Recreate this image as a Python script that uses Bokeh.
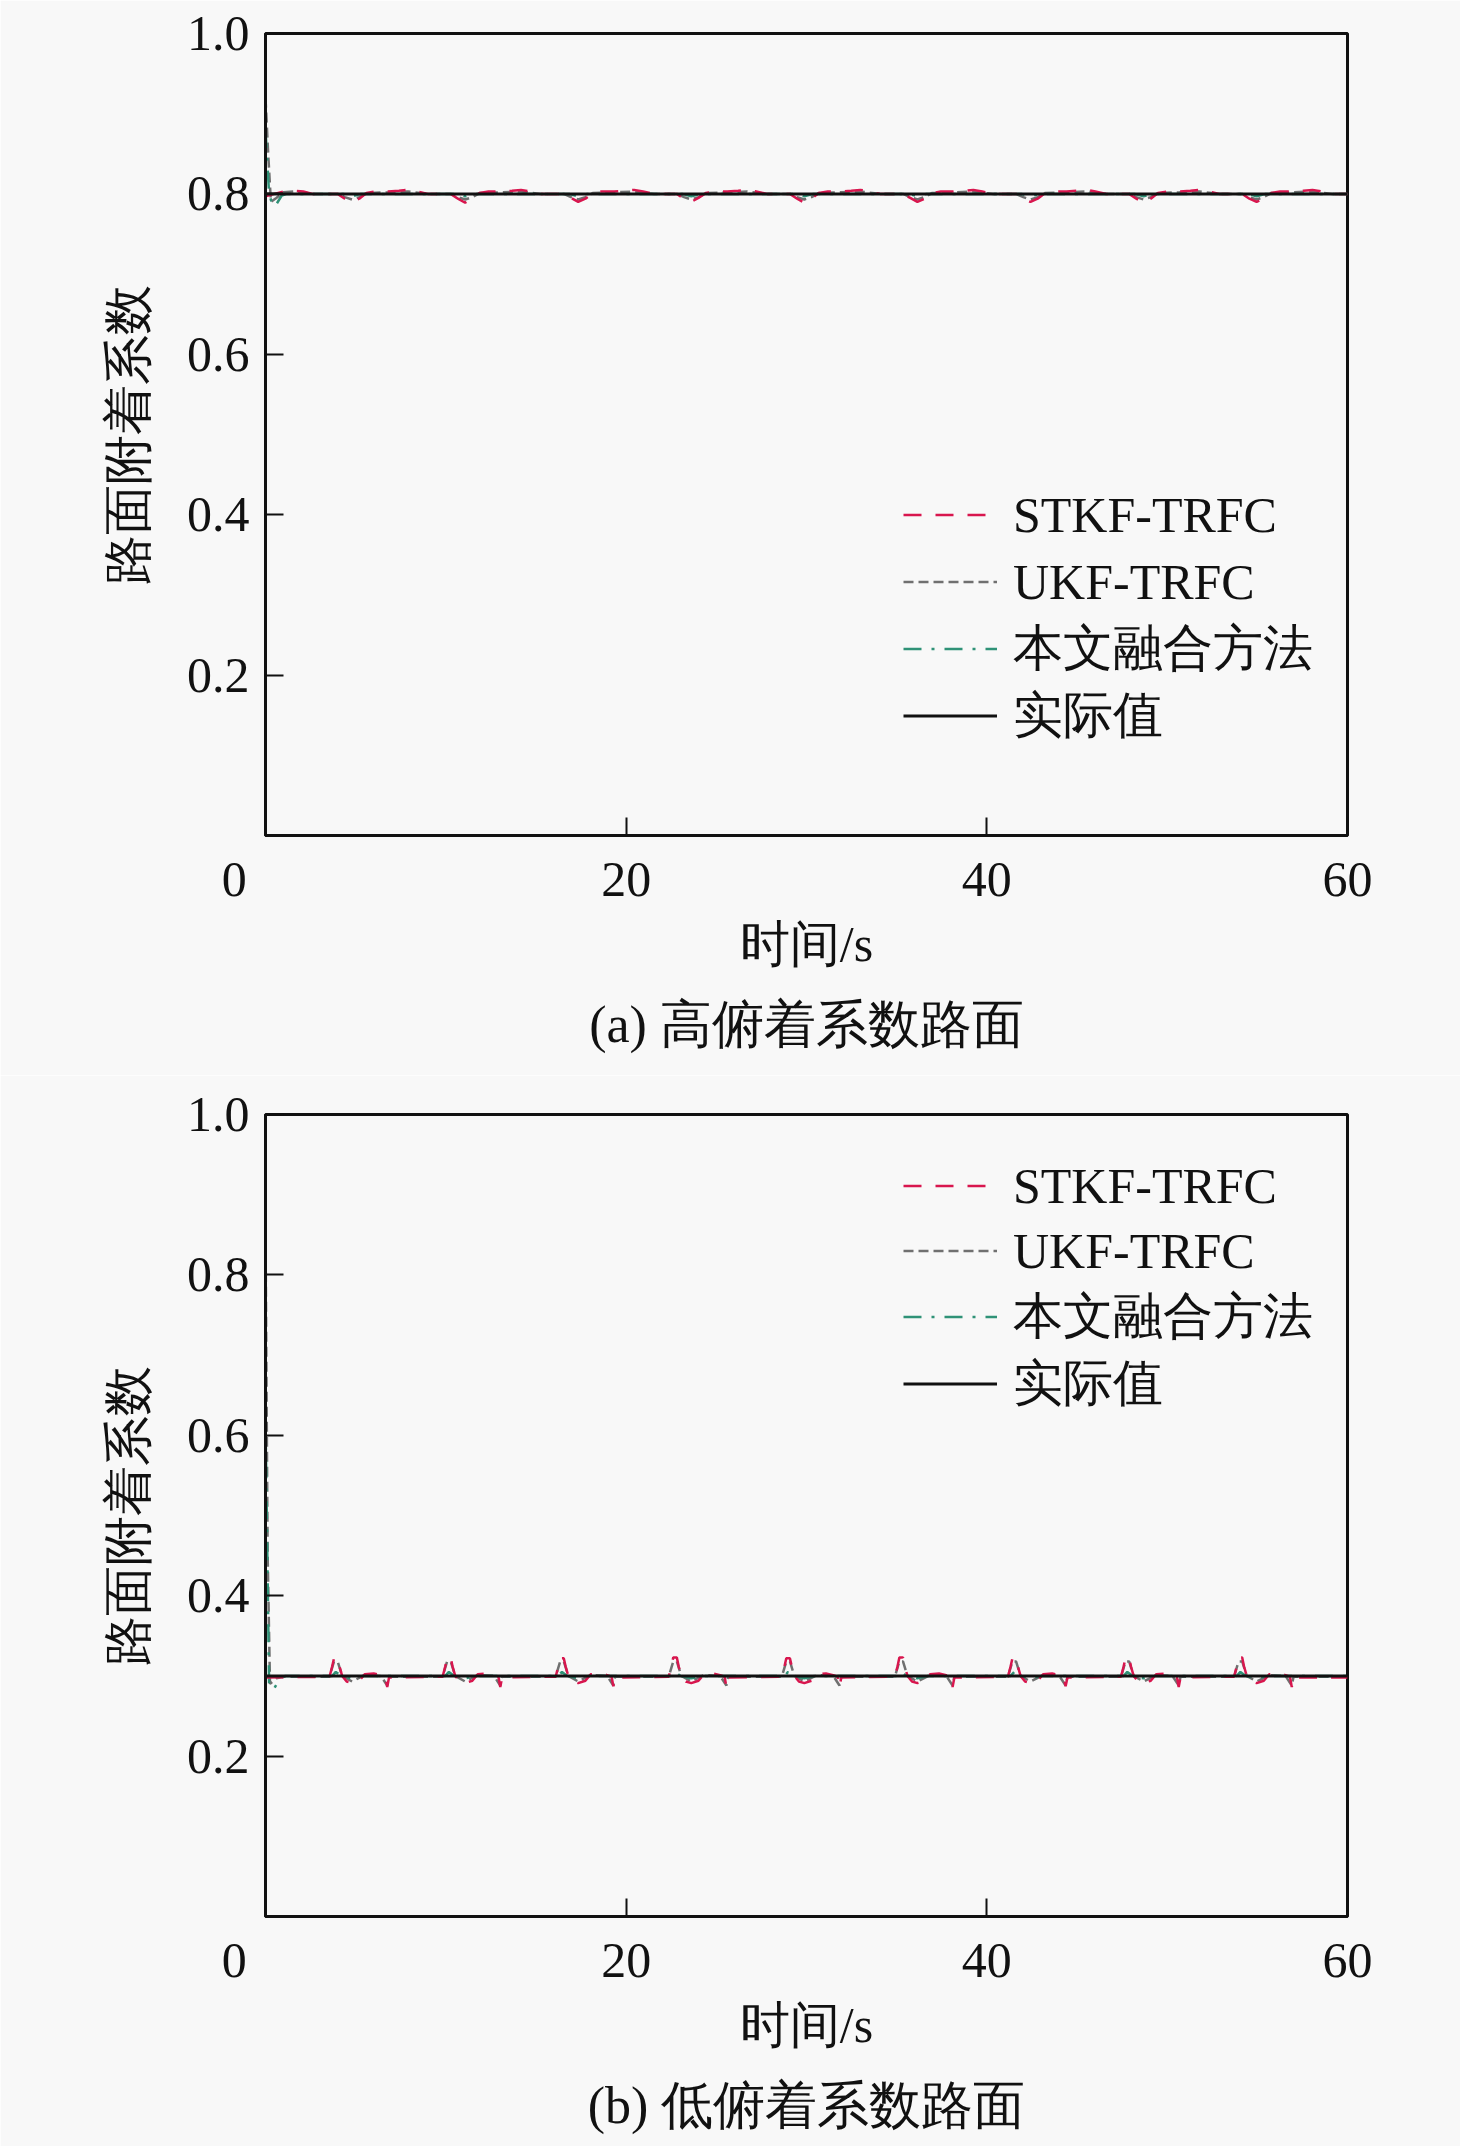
from bokeh.plotting import figure
from bokeh.models import Range1d, FixedTicker, Legend, LegendItem, Title, PrintfTickFormatter
from bokeh.layouts import column
from bokeh.embed import file_html
from bokeh.resources import INLINE

# ---------------- data : (a) high adhesion road ----------------
actual_a_t = [0.0, 60.0]
actual_a = [0.8, 0.8]

stkf_a_t = [0.0, 0.5, 1.0, 1.6, 2.1, 2.6,
            4.0, 4.4, 4.8, 5.2, 5.6, 6.1, 6.8, 7.4, 7.9, 8.4, 9.0,
            10.27, 10.67, 11.07, 11.47, 11.87, 12.37, 13.07, 13.67, 14.17, 14.67, 15.27,
            16.54, 16.94, 17.34, 17.74, 18.14, 18.64, 19.34, 19.94, 20.44, 20.94, 21.54,
            22.81, 23.21, 23.61, 24.01, 24.41, 24.91, 25.61, 26.21, 26.71, 27.21, 27.81,
            29.08, 29.48, 29.88, 30.28, 30.68, 31.18, 31.88, 32.48, 32.98, 33.48, 34.08,
            35.35, 35.75, 36.15, 36.55, 36.95, 37.45, 38.15, 38.75, 39.25, 39.75, 40.35,
            41.62, 42.02, 42.42, 42.82, 43.22, 43.72, 44.42, 45.02, 45.52, 46.02, 46.62,
            47.89, 48.29, 48.69, 49.09, 49.49, 49.99, 50.69, 51.29, 51.79, 52.29, 52.89,
            54.16, 54.56, 54.96, 55.36, 55.76, 56.26, 56.96, 57.56, 58.06, 58.56, 59.16, 60.0]
stkf_a = [0.797, 0.800, 0.803, 0.804, 0.803, 0.800,
          0.800, 0.794, 0.790, 0.794, 0.801, 0.803, 0.803, 0.804, 0.805, 0.803, 0.800,
          0.800, 0.794, 0.789, 0.794, 0.801, 0.803, 0.803, 0.804, 0.805, 0.803, 0.800,
          0.800, 0.795, 0.790, 0.794, 0.801, 0.803, 0.803, 0.804, 0.805, 0.803, 0.800,
          0.800, 0.794, 0.790, 0.795, 0.801, 0.803, 0.803, 0.804, 0.805, 0.803, 0.800,
          0.800, 0.794, 0.789, 0.794, 0.801, 0.803, 0.803, 0.804, 0.805, 0.803, 0.800,
          0.800, 0.795, 0.790, 0.794, 0.801, 0.803, 0.803, 0.804, 0.805, 0.803, 0.800,
          0.800, 0.794, 0.790, 0.794, 0.801, 0.803, 0.803, 0.804, 0.805, 0.803, 0.800,
          0.800, 0.794, 0.789, 0.794, 0.801, 0.803, 0.803, 0.804, 0.805, 0.803, 0.800,
          0.800, 0.794, 0.790, 0.794, 0.801, 0.803, 0.803, 0.804, 0.805, 0.803, 0.800, 0.800]

ukf_a_t = [0.0, 0.15, 0.3, 0.6, 1.0, 1.6, 2.1, 2.6,
           4.0, 4.4, 4.8, 5.2, 5.6, 6.8, 7.9, 9.0,
           10.27, 10.67, 11.07, 11.47, 11.87, 13.07, 14.17, 15.27,
           16.54, 16.94, 17.34, 17.74, 18.14, 19.34, 20.44, 21.54,
           22.81, 23.21, 23.61, 24.01, 24.41, 25.61, 26.71, 27.81,
           29.08, 29.48, 29.88, 30.28, 30.68, 31.88, 32.98, 34.08,
           35.35, 35.75, 36.15, 36.55, 36.95, 38.15, 39.25, 40.35,
           41.62, 42.02, 42.42, 42.82, 43.22, 44.42, 45.52, 46.62,
           47.89, 48.29, 48.69, 49.09, 49.49, 50.69, 51.79, 52.89,
           54.16, 54.56, 54.96, 55.36, 55.76, 56.96, 58.06, 59.16, 60.0]
ukf_a = [0.92, 0.85, 0.79, 0.795, 0.802, 0.803, 0.802, 0.800,
         0.800, 0.796, 0.793, 0.796, 0.801, 0.802, 0.803, 0.800,
         0.800, 0.796, 0.793, 0.796, 0.801, 0.802, 0.803, 0.800,
         0.800, 0.796, 0.793, 0.796, 0.801, 0.802, 0.803, 0.800,
         0.800, 0.796, 0.793, 0.796, 0.801, 0.802, 0.803, 0.800,
         0.800, 0.796, 0.793, 0.796, 0.801, 0.802, 0.803, 0.800,
         0.800, 0.796, 0.793, 0.796, 0.801, 0.802, 0.803, 0.800,
         0.800, 0.796, 0.793, 0.796, 0.801, 0.802, 0.803, 0.800,
         0.800, 0.796, 0.793, 0.796, 0.801, 0.802, 0.803, 0.800,
         0.800, 0.796, 0.793, 0.796, 0.801, 0.802, 0.803, 0.800, 0.800]

fused_a_t = [0.0, 0.2, 0.4, 0.6, 0.9, 1.2,
             4.3, 4.8, 5.3, 10.57, 11.07, 11.57, 16.84, 17.34, 17.84,
             23.11, 23.61, 24.11, 29.38, 29.88, 30.38, 35.65, 36.15, 36.65,
             41.92, 42.42, 42.92, 48.19, 48.69, 49.19, 54.46, 54.96, 55.46, 60.0]
fused_a = [0.88, 0.80, 0.785, 0.787, 0.798, 0.800,
           0.800, 0.797, 0.800, 0.800, 0.797, 0.800, 0.800, 0.797, 0.800,
           0.800, 0.797, 0.800, 0.800, 0.797, 0.800, 0.800, 0.797, 0.800,
           0.800, 0.797, 0.800, 0.800, 0.797, 0.800, 0.800, 0.797, 0.800, 0.800]

# ---------------- data : (b) low adhesion road ----------------
actual_b_t = [0.0, 60.0]
actual_b = [0.3, 0.3]

stkf_b_t = [0.0,
            3.55, 3.70, 3.80, 4.00, 4.10, 4.25, 4.50, 4.80, 5.20, 5.50, 6.00, 6.40, 6.65, 6.75, 6.85,
            9.82, 9.97, 10.07, 10.27, 10.37, 10.52, 10.77, 11.07, 11.47, 11.77, 12.27, 12.67, 12.92, 13.02, 13.12,
            16.09, 16.24, 16.34, 16.54, 16.64, 16.79, 17.04, 17.34, 17.74, 18.04, 18.54, 18.94, 19.19, 19.29, 19.39,
            22.36, 22.51, 22.61, 22.81, 22.91, 23.06, 23.31, 23.61, 24.01, 24.31, 24.81, 25.21, 25.46, 25.56, 25.66,
            28.63, 28.78, 28.88, 29.08, 29.18, 29.33, 29.58, 29.88, 30.28, 30.58, 31.08, 31.48, 31.73, 31.83, 31.93,
            34.90, 35.05, 35.15, 35.35, 35.45, 35.60, 35.85, 36.15, 36.55, 36.85, 37.35, 37.75, 38.00, 38.10, 38.20,
            41.17, 41.32, 41.42, 41.62, 41.72, 41.87, 42.12, 42.42, 42.82, 43.12, 43.62, 44.02, 44.27, 44.37, 44.47,
            47.44, 47.59, 47.69, 47.89, 47.99, 48.14, 48.39, 48.69, 49.09, 49.39, 49.89, 50.29, 50.54, 50.64, 50.74,
            53.71, 53.86, 53.96, 54.16, 54.26, 54.41, 54.66, 54.96, 55.36, 55.66, 56.16, 56.56, 56.81, 56.91, 57.01,
            60.0]
stkf_b = [0.298,
          0.299, 0.312, 0.322, 0.322, 0.312, 0.300, 0.293, 0.291, 0.294, 0.302, 0.303, 0.301, 0.299, 0.286, 0.298,
          0.299, 0.312, 0.323, 0.323, 0.312, 0.300, 0.293, 0.291, 0.294, 0.302, 0.303, 0.301, 0.299, 0.286, 0.298,
          0.299, 0.312, 0.322, 0.322, 0.312, 0.300, 0.293, 0.291, 0.294, 0.302, 0.303, 0.301, 0.299, 0.287, 0.298,
          0.299, 0.312, 0.323, 0.323, 0.312, 0.300, 0.293, 0.291, 0.294, 0.302, 0.303, 0.301, 0.299, 0.286, 0.298,
          0.299, 0.312, 0.322, 0.322, 0.312, 0.300, 0.293, 0.291, 0.294, 0.302, 0.303, 0.301, 0.299, 0.286, 0.298,
          0.299, 0.312, 0.323, 0.323, 0.312, 0.300, 0.293, 0.291, 0.294, 0.302, 0.303, 0.301, 0.299, 0.286, 0.298,
          0.299, 0.312, 0.322, 0.322, 0.312, 0.300, 0.293, 0.291, 0.294, 0.302, 0.303, 0.301, 0.299, 0.287, 0.298,
          0.299, 0.312, 0.323, 0.323, 0.312, 0.300, 0.293, 0.291, 0.294, 0.302, 0.303, 0.301, 0.299, 0.286, 0.298,
          0.299, 0.312, 0.323, 0.323, 0.312, 0.300, 0.293, 0.291, 0.294, 0.302, 0.303, 0.301, 0.299, 0.286, 0.298,
          0.298]

ukf_b_t = [0.0, 0.12, 0.25, 0.6, 1.0,
           3.55, 3.80, 4.00, 4.25, 4.80, 5.50, 6.40, 6.75, 6.85,
           9.82, 10.07, 10.27, 10.52, 11.07, 11.77, 12.67, 13.02, 13.12,
           16.09, 16.34, 16.54, 16.79, 17.34, 18.04, 18.94, 19.29, 19.39,
           22.36, 22.61, 22.81, 23.06, 23.61, 24.31, 25.21, 25.56, 25.66,
           28.63, 28.88, 29.08, 29.33, 29.88, 30.58, 31.48, 31.83, 31.93,
           34.90, 35.15, 35.35, 35.60, 36.15, 36.85, 37.75, 38.10, 38.20,
           41.17, 41.42, 41.62, 41.87, 42.42, 43.12, 44.02, 44.37, 44.47,
           47.44, 47.69, 47.89, 48.14, 48.69, 49.39, 50.29, 50.64, 50.74,
           53.71, 53.96, 54.16, 54.41, 54.96, 55.66, 56.56, 56.91, 57.01, 60.0]
ukf_b = [0.86, 0.45, 0.29, 0.297, 0.299,
         0.299, 0.318, 0.318, 0.300, 0.293, 0.301, 0.300, 0.288, 0.299,
         0.299, 0.318, 0.318, 0.300, 0.293, 0.301, 0.300, 0.288, 0.299,
         0.299, 0.318, 0.318, 0.300, 0.293, 0.301, 0.300, 0.288, 0.299,
         0.299, 0.318, 0.318, 0.300, 0.293, 0.301, 0.300, 0.288, 0.299,
         0.299, 0.318, 0.318, 0.300, 0.293, 0.301, 0.300, 0.288, 0.299,
         0.299, 0.318, 0.318, 0.300, 0.293, 0.301, 0.300, 0.288, 0.299,
         0.299, 0.318, 0.318, 0.300, 0.293, 0.301, 0.300, 0.288, 0.299,
         0.299, 0.318, 0.318, 0.300, 0.293, 0.301, 0.300, 0.288, 0.299,
         0.299, 0.318, 0.318, 0.300, 0.293, 0.301, 0.300, 0.288, 0.299, 0.299]

fused_b_t = [0.0, 0.2, 0.45, 0.8, 1.1,
             3.7, 3.9, 4.2, 4.8, 5.4, 9.97, 10.17, 10.47, 11.07, 11.67,
             16.24, 16.44, 16.74, 17.34, 17.94, 22.51, 22.71, 23.01, 23.61, 24.21,
             28.78, 28.98, 29.28, 29.88, 30.48, 35.05, 35.25, 35.55, 36.15, 36.75,
             41.32, 41.52, 41.82, 42.42, 43.02, 47.59, 47.79, 48.09, 48.69, 49.29,
             53.86, 54.06, 54.36, 54.96, 55.56, 60.0]
fused_b = [0.62, 0.29, 0.283, 0.297, 0.300,
           0.300, 0.305, 0.300, 0.297, 0.300, 0.300, 0.305, 0.300, 0.297, 0.300,
           0.300, 0.305, 0.300, 0.297, 0.300, 0.300, 0.305, 0.300, 0.297, 0.300,
           0.300, 0.305, 0.300, 0.297, 0.300, 0.300, 0.305, 0.300, 0.297, 0.300,
           0.300, 0.305, 0.300, 0.297, 0.300, 0.300, 0.305, 0.300, 0.297, 0.300,
           0.300, 0.305, 0.300, 0.297, 0.300, 0.300]

x_ticks = [0, 20, 40, 60]
# the origin label sits left of the corner in the reference (padded with no-break spaces)
x_tick_labels = {0: "0\u00a0\u00a0\u00a0\u00a0\u00a0", 20: "20", 40: "40", 60: "60"}
y_ticks = [0.2, 0.4, 0.6, 0.8, 1.0]
series_names = ["STKF-TRFC", "UKF-TRFC", "本文融合方法", "实际值"]
x_label = "时间/s"
y_label = "路面附着系数"
captions = ["(a) 高俯着系数路面", "(b) 低俯着系数路面"]

FONT = "Liberation Serif"
BG = "#f8f8f8"
C_STKF = "#d8164e"
C_UKF = "#707070"
C_FUSED = "#2f9277"
C_ACT = "#111111"


def panel(series, caption, min_top, min_bottom, legend_y, legend_item_h):
    p = figure(frame_width=1082, frame_height=802, output_backend="svg",
               toolbar_location=None, x_range=Range1d(0, 60), y_range=Range1d(0, 1),
               min_border_left=265, min_border_right=113, min_border_top=min_top,
               min_border_bottom=min_bottom, background_fill_color=BG,
               border_fill_color=BG)
    p.xgrid.visible = False
    p.ygrid.visible = False
    p.outline_line_color = "#111111"
    p.outline_line_width = 3
    p.outline_line_alpha = 1

    for ax in (p.xaxis[0], p.yaxis[0]):
        ax.axis_line_width = 3
        ax.axis_line_color = "#111111"
        ax.major_tick_in = 18
        ax.major_tick_out = 0
        ax.major_tick_line_width = 2
        ax.major_tick_line_color = "#111111"
        ax.minor_tick_line_color = None
        ax.major_label_text_font = FONT
        ax.major_label_text_font_size = "50px"
        ax.major_label_text_color = "#111111"
        ax.axis_label_text_font = FONT
        ax.axis_label_text_font_size = "50px"
        ax.axis_label_text_font_style = "normal"
        ax.axis_label_text_color = "#111111"

    p.xaxis.ticker = FixedTicker(ticks=x_ticks)
    p.xaxis.major_label_overrides = x_tick_labels
    p.yaxis.ticker = FixedTicker(ticks=y_ticks)
    p.yaxis.formatter = PrintfTickFormatter(format="%.1f")
    p.xaxis.major_label_standoff = 15
    p.yaxis.major_label_standoff = 16
    p.xaxis.axis_label = x_label
    p.yaxis.axis_label = y_label
    p.xaxis.axis_label_standoff = 6
    p.yaxis.axis_label_standoff = 28

    (st_t, st_v), (uk_t, uk_v), (fu_t, fu_v), (ac_t, ac_v) = series
    r_uk = p.line(uk_t, uk_v, line_color=C_UKF, line_width=2.5, line_dash="10 5")
    r_fu = p.line(fu_t, fu_v, line_color=C_FUSED, line_width=2.5, line_dash="18 10 3 10")
    r_st = p.line(st_t, st_v, line_color=C_STKF, line_width=2.5, line_dash="18 14")
    r_ac = p.line(ac_t, ac_v, line_color=C_ACT, line_width=3)

    items = [LegendItem(label=series_names[0], renderers=[r_st]),
             LegendItem(label=series_names[1], renderers=[r_uk]),
             LegendItem(label=series_names[2], renderers=[r_fu]),
             LegendItem(label=series_names[3], renderers=[r_ac])]
    leg = Legend(items=items, location=(638, legend_y), orientation="vertical",
                 glyph_width=94, glyph_height=legend_item_h, label_height=legend_item_h,
                 label_standoff=16, spacing=0, padding=0, margin=0,
                 label_text_font=FONT, label_text_font_size="50px",
                 label_text_color="#111111", border_line_alpha=0,
                 background_fill_alpha=0)
    p.add_layout(leg)

    cap = Title(text=caption, align="center", text_font=FONT, text_font_size="52px",
                text_font_style="normal", text_color="#111111", standoff=39)
    p.add_layout(cap, "below")
    return p


p1 = panel([(stkf_a_t, stkf_a), (ukf_a_t, ukf_a), (fused_a_t, fused_a), (actual_a_t, actual_a)],
           captions[0], 33, 240, 86, 67)
p2 = panel([(stkf_b_t, stkf_b), (ukf_b_t, ukf_b), (fused_b_t, fused_b), (actual_b_t, actual_b)],
           captions[1], 39, 222, 499, 65)

layout = column(p1, p2, spacing=0)
open("out.html", "w").write(file_html(layout, INLINE))
